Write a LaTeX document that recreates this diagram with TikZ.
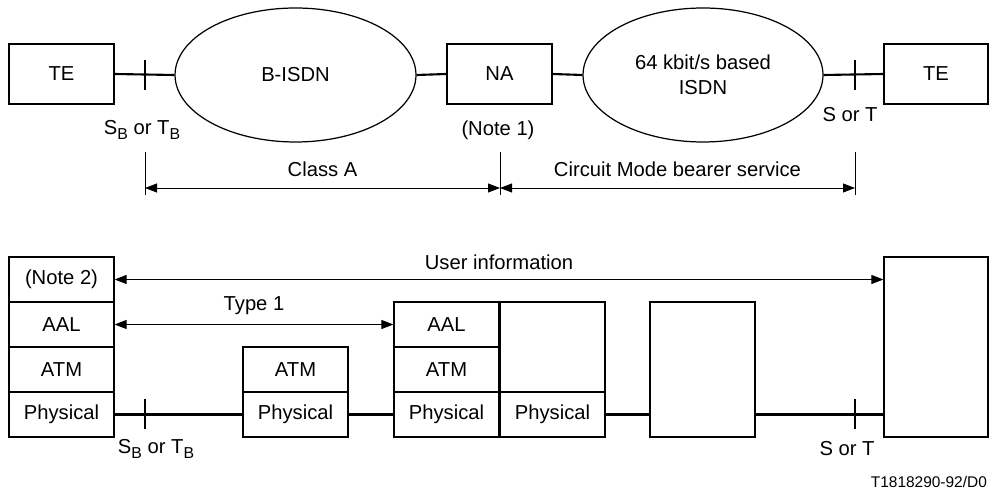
\documentclass[tikz,border=0pt]{standalone}
\usepackage{fontspec}
\setmainfont{Liberation Sans}
\usetikzlibrary{shapes.geometric,arrows.meta}

\newcommand{\lowsub}[1]{\raisebox{-0.45ex}{\fontsize{9}{10}\selectfont #1}}

\tikzset{
  box/.style={draw, line width=0.7pt, minimum width=2.1cm, minimum height=0.9cm, inner sep=0pt},
  net/.style={draw, ellipse, line width=0.7pt, inner sep=0pt, align=center},
  link/.style={line width=1.2pt},
  guide/.style={line width=0.5pt},
  dim/.style={line width=0.5pt, {Triangle[length=2.4mm,width=1.8mm]}-{Triangle[length=2.4mm,width=1.8mm]}},
}

\begin{document}
\begin{tikzpicture}[x=0.02cm, y=-0.02cm, font=\fontsize{11.5}{14}\selectfont]
\useasboundingbox (0,0) rectangle (989,492);

% =====================
% Upper row: networks
% =====================
\node[box, minimum height=1.2cm] (teL) at (61.5,74) {TE};
\node[net, minimum width=4.82cm, minimum height=2.68cm] (bisdn) at (295.5,75) {B-ISDN};
\node[box, minimum height=1.2cm] (na) at (499.5,74) {NA};
\node[net, minimum width=4.8cm, minimum height=2.68cm] (isdn) at (703,75) {64 kbit/s based\\ISDN};
\node[box, minimum width=2.08cm, minimum height=1.2cm] (teR) at (936,74) {TE};

\draw[link] (teL.east) -- (bisdn.west);
\draw[link] (bisdn.east) -- (na.west);
\draw[link] (na.east) -- (isdn.west);
\draw[link] (isdn.east) -- (teR.west);

% reference points
\coordinate (tk1) at (145,75);
\coordinate (tk2) at (855,75);
\draw[link] (tk1) ++(0,-15) -- ++(0,30);
\draw[link] (tk2) ++(0,-15) -- ++(0,30);

\node (sbtb1) at (142,130) {S\lowsub{B} or T\lowsub{B}};
\node (note1) at (498,130) {(Note 1)};
\node (sort1) at (850,115) {S or T};

% =====================
% Service extents
% =====================
\foreach \n/\x in {a/145, b/500, c/855} {
    \coordinate (g\n1) at (\x,152);
    \coordinate (g\n2) at (\x,195);
    \coordinate (d\n) at (\x,188);
    \draw[guide] (g\n1) -- (g\n2);
}

\draw[dim] (da) -- (db) node[midway, above=3pt] {Class A};
\draw[dim] (db) -- (dc) node[midway, above=3pt] {Circuit Mode bearer service};

% =====================
% Lower row: protocol stacks
% =====================
% terminal (B-ISDN side)
\node[box] (note2) at (61.5,279.5) {(Note 2)};
\node[box] (aal1) at (61.5,324.5) {AAL};
\node[box] (atm1) at (61.5,369.5) {ATM};
\node[box] (phy1) at (61.5,414.5) {Physical};

% ATM switch
\node[box] (atm2) at (295.5,369.5) {ATM};
\node[box] (phy2) at (295.5,414.5) {Physical};

% network adaptor
\node[box] (aal3) at (446.5,324.5) {AAL};
\node[box] (atm3) at (446.5,369.5) {ATM};
\node[box] (phy3) at (446.5,414.5) {Physical};
\node[box, minimum height=1.8cm] (up4) at (552.5,347) {};
\node[box] (phy4) at (552.5,414.5) {Physical};

% 64 kbit/s exchange
\node[box, minimum height=2.7cm] (relay) at (702.5,369.5) {};

% terminal (ISDN side)
\node[box, minimum width=2.08cm, minimum height=3.6cm] (bigR) at (936,347) {};

\draw[link] (phy1.east) -- (phy2.west);
\draw[link] (phy2.east) -- (phy3.west);
\draw[link] (phy4.east) -- (relay.west |- phy4.east);
\draw[link] (relay.east |- phy4.east) -- (bigR.west |- phy4.east);

\coordinate (tk3) at (145,414.5);
\coordinate (tk4) at (855,414.5);
\draw[link] (tk3) ++(0,-15) -- ++(0,30);
\draw[link] (tk4) ++(0,-15) -- ++(0,30);

\node (sbtb2) at (156,449) {S\lowsub{B} or T\lowsub{B}};
\node (sort2) at (847,449) {S or T};

% =====================
% Peer relations
% =====================
\draw[dim] (note2.east) -- (note2.east -| bigR.west) node[midway, above=2pt] {User information};
\draw[dim] (aal1.east) -- (aal3.west) node[midway, above=2pt] {Type 1};

\node[anchor=east, inner sep=1pt, font=\fontsize{8.8}{10}\selectfont] (fig) at (989,482) {T1818290-92/D0};

\end{tikzpicture}
\end{document}
